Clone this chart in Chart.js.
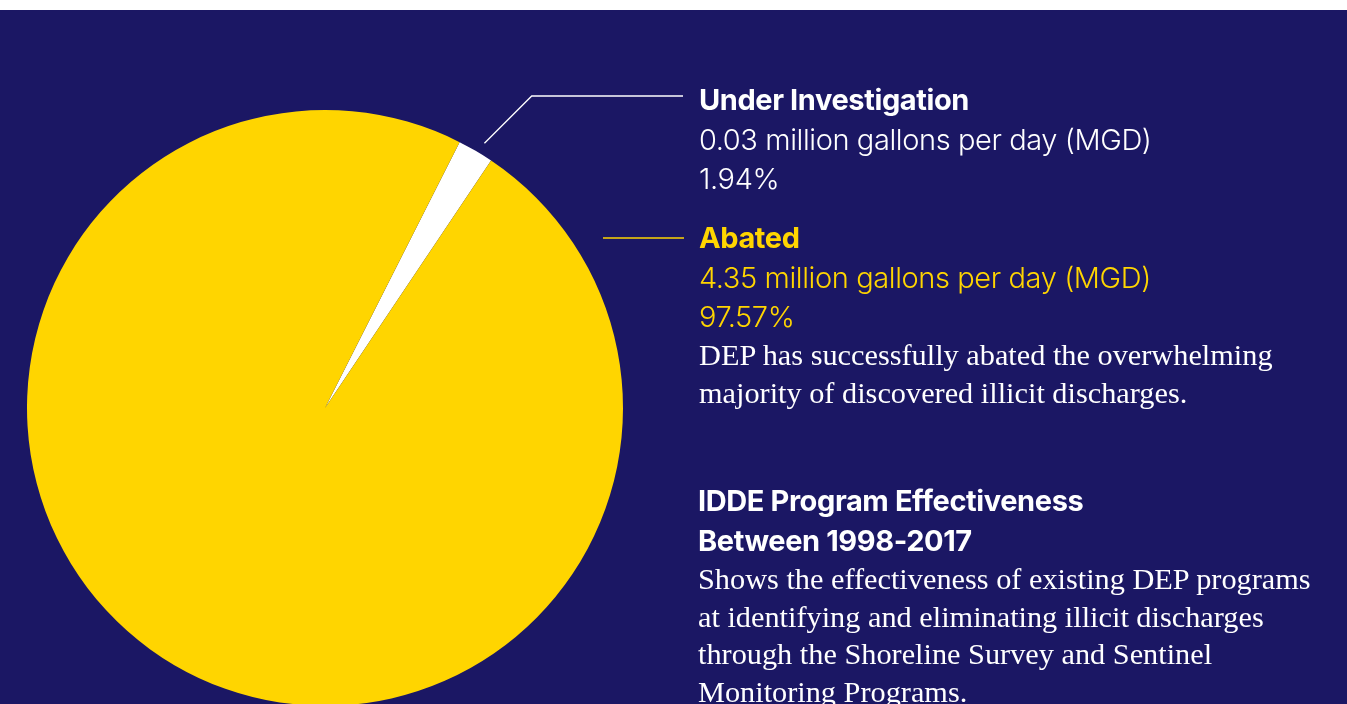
<!DOCTYPE html>
<html>
<head>
<meta charset="utf-8">
<script src="https://cdn.jsdelivr.net/npm/chart.js@4"></script>
<style>
  html, body { margin: 0; padding: 0; background: #ffffff; overflow: hidden; }
  #painel {
    position: absolute; left: 0; top: 10px; width: 1347px; height: 710px;
    background: #1b1764;
  }
  #grafico-wrap { position: absolute; left: 0; top: 0; width: 1347px; height: 710px; }
  .bloco { position: absolute; left: 699px; white-space: nowrap; }
  .sans { font-family: Inter, "Noto Sans", sans-serif; font-size: 29px; line-height: 39.5px; letter-spacing: -0.4px; }
  .sans b { font-weight: 700; display: block; }
  .sans span { font-weight: 300; display: block; }
  .serif { font-family: "Liberation Serif", "DejaVu Serif", serif; font-size: 30.3px; line-height: 37.5px; color: #ffffff; }
  .branco { color: #ffffff; }
  .amarelo { color: #ffd500; }
</style>
</head>
<body>
<div id="painel">
  <div id="grafico-wrap"><canvas id="pizzaChart"></canvas></div>

  <div class="bloco sans branco" style="top:70px;">
    <b>Under Investigation</b>
    <span>0.03 million gallons per day (MGD)</span>
    <span>1.94%</span>
  </div>

  <div class="bloco sans amarelo" style="top:208px;">
    <b>Abated</b>
    <span>4.35 million gallons per day (MGD)</span>
    <span>97.57%</span>
  </div>
  <div class="bloco serif" style="top:327px;">
    DEP has successfully abated the overwhelming<br>
    majority of discovered illicit discharges.
  </div>

  <div class="bloco sans branco" style="top:471px; left:698px;">
    <b>IDDE Program Effectiveness</b>
    <b>Between 1998-2017</b>
  </div>
  <div class="bloco serif" style="top:551px; left:698px;">
    Shows the effectiveness of existing DEP programs<br>
    at identifying and eliminating illicit discharges<br>
    through the Shoreline Survey and Sentinel<br>
    Monitoring Programs.
  </div>
</div>

<script>
const categorias = ['Under Investigation', 'Abated'];
const vazaoMGD = [0.03, 4.35];
const percentuais = [1.94, 97.57];
const cores = ['#ffffff', '#ffd500'];

// linhas de chamada (posicoes relativas ao canvas)
const chamadaInvestigacao = { yHorizontal: 86, xFim: 683, afastamento: 11 };
const chamadaAbated = { y: 228, xInicio: 603, xFim: 684 };

const linhasChamada = {
    id: 'linhasChamada',
    afterDraw(chart) {
        const ctx = chart.ctx;
        const arco = chart.getDatasetMeta(0).data[0];
        if (!arco) return;
        const p = arco.getProps(['x', 'y', 'startAngle', 'endAngle', 'outerRadius'], true);
        // um pouco depois do meio da fatia
        const angulo = p.startAngle + (p.endAngle - p.startAngle) * 0.6;
        const r = p.outerRadius + chamadaInvestigacao.afastamento;
        const x0 = p.x + Math.cos(angulo) * r;
        const y0 = p.y + Math.sin(angulo) * r;
        const dy = y0 - chamadaInvestigacao.yHorizontal;

        ctx.save();
        ctx.lineWidth = 1.3;
        ctx.strokeStyle = cores[0];
        ctx.beginPath();
        ctx.moveTo(x0, y0);
        ctx.lineTo(x0 + dy, chamadaInvestigacao.yHorizontal);
        ctx.lineTo(chamadaInvestigacao.xFim, chamadaInvestigacao.yHorizontal);
        ctx.stroke();

        ctx.strokeStyle = cores[1];
        ctx.beginPath();
        ctx.moveTo(chamadaAbated.xInicio, chamadaAbated.y);
        ctx.lineTo(chamadaAbated.xFim, chamadaAbated.y);
        ctx.stroke();
        ctx.restore();
    }
};

const ctx = document.getElementById('pizzaChart');
new Chart(ctx, {
    type: 'pie',
    data: {
        labels: categorias,
        datasets: [{
            data: percentuais,
            backgroundColor: cores,
            borderWidth: 0,
            hoverOffset: 0,
            offset: 0
        }]
    },
    options: {
        responsive: true,
        maintainAspectRatio: false,
        animation: false,
        events: [],
        rotation: 26.85,
        layout: { padding: { left: 27, top: 100, right: 724, bottom: 14 } },
        plugins: {
            legend: { display: false },
            tooltip: { enabled: false }
        }
    },
    plugins: [linhasChamada]
});
</script>
</body>
</html>
